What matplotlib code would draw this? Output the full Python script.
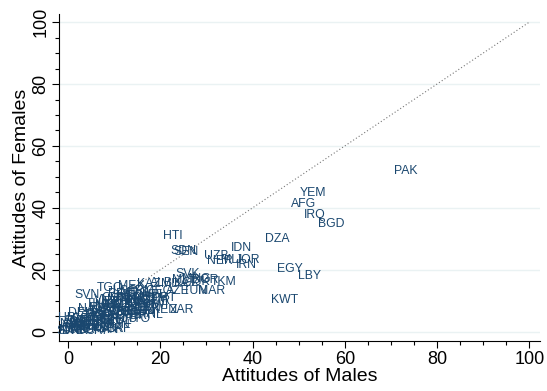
import matplotlib
matplotlib.use("Agg")
import matplotlib.pyplot as plt
from matplotlib.ticker import MultipleLocator

plt.rcParams['font.family'] = ['Liberation Sans', 'DejaVu Sans']

# country codes with attitude scores (males, females)
codes = ["PAK", "YEM", "AFG", "IRQ", "BGD", "DZA", "EGY", "LBY", "KWT", "HTI",
         "IDN", "SDN", "SEN", "UZB", "NER", "MLI", "JOR", "IRN", "SVK", "MLT",
         "MNG", "TKM", "BGR", "TJK", "KGZ", "MDA", "ALB", "KAZ", "MEX", "TGO",
         "SVN", "LSO", "ARM", "GEO", "AZE", "TUN", "MAR", "BFA", "MDG", "GTM",
         "HND", "NIC", "PRY", "DOM", "PRT", "BEN", "ECU", "UGA", "ZMB", "MWI",
         "RWA", "BOL", "NGA", "TZA", "KEN", "ZAR", "DEU", "JPN", "BRA", "ARG",
         "CHL", "COL", "PER", "GHA", "PHL", "HRV", "KOR", "AUS", "CAN", "USA",
         "GBR", "ESP", "FRA", "ITA", "CZE", "POL", "CHE", "ISL", "SWE", "NOR",
         "DNK", "FIN", "NLD", "UKR", "CAF",
         "THA", "VNM", "CHN", "IND", "NPL", "KHM", "ETH", "CMR", "CIV", "GIN",
         "ZWE", "ZAF", "NAM", "MNE", "SRB", "BIH", "ROU", "HUN", "LTU", "LVA",
         "EST", "RUS", "TUR", "LBN", "GRC", "NZL", "IRL", "BEL", "AUT", "URY",
         "SLV", "PAN", "CRI", "TTO", "BLR"]
males = [73.3, 53.1, 51.1, 53.5, 57.0, 45.3, 48.1, 52.3, 46.9, 22.7,
         37.5, 25.1, 25.6, 32.1, 33.0, 35.3, 39.0, 38.6, 26.0, 25.0,
         27.8, 33.7, 29.8, 28.5, 25.8, 23.0, 20.2, 17.5, 13.7, 9.0,
         4.0, 12.5, 16.0, 19.8, 23.8, 27.5, 31.2, 11.2, 14.3, 12.0,
         13.6, 15.2, 16.8, 18.4, 20.8, 10.5, 11.3, 14.0, 17.0, 19.0,
         7.5, 9.2, 12.5, 15.5, 21.0, 24.6, 2.8, 5.5, 8.0, 9.8,
         11.5, 13.0, 14.5, 16.0, 17.9, 0.6, 6.5, 1.5, 2.8, 4.0,
         5.0, 6.0, 7.2, 8.3, 9.5, 11.0, 2.0, 0.3, 0.5, 1.0,
         1.5, 2.2, 3.0, 4.1, 11.0,
         6.5, 8.5, 10.0, 16.5, 18.5, 12.8, 14.8, 11.8, 13.2, 16.3,
         10.2, 7.0, 5.0, 8.8, 7.5, 9.0, 12.0, 10.5, 6.5, 7.8,
         3.5, 15.0, 19.5, 17.5, 4.8, 0.8, 2.5, 3.2, 1.6, 5.8,
         13.8, 8.2, 6.0, 15.3, 9.3]
females = [52.0, 44.8, 41.2, 37.7, 34.8, 30.0, 20.3, 18.0, 10.1, 31.0,
           27.0, 26.0, 25.8, 24.3, 22.7, 23.0, 23.2, 21.4, 18.6, 16.8,
           16.9, 16.0, 16.6, 15.9, 15.6, 15.4, 15.6, 15.3, 14.9, 14.1,
           11.9, 13.0, 13.2, 13.0, 13.0, 13.2, 13.2, 12.2, 12.4, 10.5,
           11.5, 10.2, 11.0, 10.6, 11.0, 9.5, 8.5, 8.8, 8.7, 8.7,
           7.8, 7.3, 7.3, 7.0, 7.1, 7.1, 6.0, 5.2, 5.8, 5.0,
           6.2, 5.5, 5.0, 5.6, 5.5, 4.4, 4.5, 2.5, 3.0, 2.2,
           3.3, 2.8, 3.5, 2.6, 3.8, 3.3, 1.8, 1.2, 0.3, 0.5,
           0.2, 0.8, 0.5, 1.4, 0.7,
           9.0, 10.2, 11.0, 9.5, 12.0, 9.6, 7.8, 6.8, 8.2, 6.8,
           6.3, 6.6, 7.2, 8.7, 4.8, 4.2, 4.2, 2.2, 1.8, 1.2,
           4.0, 9.8, 10.0, 7.5, 5.5, 2.5, 2.2, 1.5, 3.6, 0.8,
           6.5, 0.4, 0.3, 4.1, 1.0]

navy = "#1a476f"
fig = plt.figure(figsize=(5.47, 3.91), dpi=100)
ax = fig.add_axes([0.108, 0.128, 0.879, 0.836])

# 45-degree reference line
ax.plot([0, 100], [0, 100], linestyle=(0, (1, 2)), color="#777777", linewidth=0.8, zorder=1)

for c, xm, yf in zip(codes, males, females):
    ax.text(xm, yf, c, color=navy, fontsize=8.8, ha="center", va="center", zorder=3)

ax.set_xlim(-1.95, 102.3)
ax.set_ylim(-3.0, 102.6)
ax.xaxis.set_major_locator(MultipleLocator(20))
ax.xaxis.set_minor_locator(MultipleLocator(5))
ax.yaxis.set_major_locator(MultipleLocator(20))
ax.yaxis.set_minor_locator(MultipleLocator(5))
ax.grid(axis="y", which="major", color="#eaf2f3", linewidth=1.0, zorder=0)
ax.set_axisbelow(True)

for s in ["top", "right"]:
    ax.spines[s].set_visible(False)
for s in ["left", "bottom"]:
    ax.spines[s].set_linewidth(0.8)

ax.tick_params(which="major", length=5, width=0.8, labelsize=13, pad=2)
ax.tick_params(which="minor", length=3, width=0.8)
plt.setp(ax.get_yticklabels(), rotation=90, va="center")

ax.set_xlabel("Attitudes of Males", fontsize=14, labelpad=0)
ax.set_ylabel("Attitudes of Females", fontsize=14, labelpad=2)

fig.savefig("out.png", dpi=100)
